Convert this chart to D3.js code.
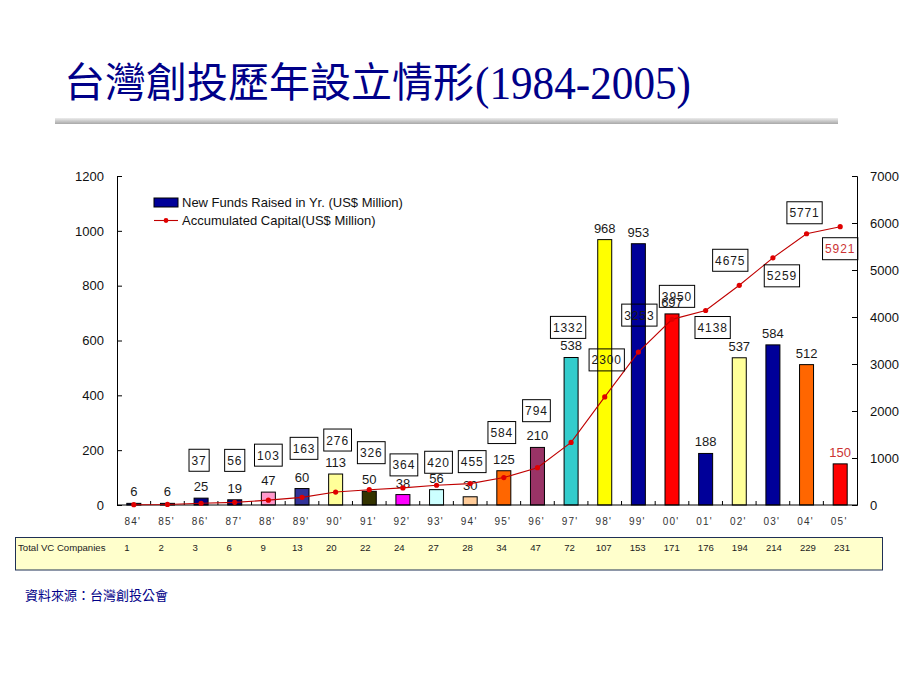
<!DOCTYPE html>
<html><head><meta charset="utf-8">
<script src="https://cdn.jsdelivr.net/npm/d3@7"></script>
<style>body{margin:0;background:#fff}svg{display:block}</style>
</head><body><svg id="c" width="920" height="690"></svg>
<script>
// ---------- DATA ----------
const years = ["84'","85'","86'","87'","88'","89'","90'","91'","92'","93'","94'","95'","96'","97'","98'","99'","00'","01'","02'","03'","04'","05'"];
const newFunds = [6,6,25,19,47,60,113,50,38,56,30,125,210,538,968,953,697,188,537,584,512,150];
const accumulated = [6,12,37,56,103,163,276,326,364,420,455,584,794,1332,2300,3253,3950,4138,4675,5259,5771,5921];
const vcCompanies = [1,2,3,6,9,13,20,22,24,27,28,34,47,72,107,153,171,176,194,214,229,231];
const leftTicks = [0,200,400,600,800,1000,1200];
const rightTicks = [0,1000,2000,3000,4000,5000,6000,7000];
const seriesNames = ["New Funds Raised in Yr. (US$ Million)","Accumulated Capital(US$ Million)"];
const titleCJK = "台灣創投歷年設立情形";
const titleNum = "(1984-2005)";
const tableLabel = "Total VC Companies";
const sourceText = "資料來源：台灣創投公會";

// ---------- STYLE / LAYOUT ----------
const barColors = ["#000080","#000080","#000080","#000080","#ff99cc","#333399","#ffff99","#333300","#ff00ff","#ccffff","#ffcc99","#ff6600","#993366","#33cccc","#ffff00","#000099","#ff0000","#000099","#ffff99","#000099","#ff6600","#ff0000"];
// manual placement of accumulated-value boxes (dx, dy from the point)
const accLabelOffsets = [null,null,[-2,-43],[0,-42],[0,-45],[2,-49],[2,-52],[2,-37],[1,-23],[2,-23],[2,-22],[-2,-45],[-1,-57],[-3,-115],[2,-37],[1,-37],[5,-23],[7,17],[-9,-25],[9,18],[-2,-21],[0,22]];

const svg = d3.select("#c");
const navy = "#000088";

// Title
svg.append("text").attr("x",64).attr("y",97).attr("fill",navy)
  .attr("font-family","'Noto Sans CJK TC','Noto Sans CJK SC',sans-serif").attr("font-size",41)
  .attr("textLength",410).attr("lengthAdjust","spacingAndGlyphs").text(titleCJK);
svg.append("text").attr("x",475).attr("y",99).attr("fill",navy)
  .attr("font-family","'Liberation Serif','DejaVu Serif',serif").attr("font-size",46)
  .attr("textLength",216).attr("lengthAdjust","spacingAndGlyphs").text(titleNum);

// Gray rule
const defs = svg.append("defs");
const g1 = defs.append("linearGradient").attr("id","rule").attr("x1",0).attr("y1",0).attr("x2",0).attr("y2",1);
g1.append("stop").attr("offset","0%").attr("stop-color","#ececec");
g1.append("stop").attr("offset","100%").attr("stop-color","#a8a8a8");
svg.append("rect").attr("x",55).attr("y",118).attr("width",783).attr("height",6).attr("fill","url(#rule)");

// Scales
const x = d3.scaleBand().domain(years).range([117,857]).padding(0);
const yL = d3.scaleLinear().domain([0,1200]).range([505,176]);
const yR = d3.scaleLinear().domain([0,7000]).range([505,176]);
const cx = d => x(d) + x.bandwidth()/2;
const font = "'Liberation Sans',Arial,sans-serif";

// Bars
const barW = 14;
svg.append("g").selectAll("rect").data(years).join("rect")
  .attr("x", d => cx(d) - barW/2)
  .attr("y", (d,i) => yL(newFunds[i]))
  .attr("width", barW)
  .attr("height", (d,i) => yL(0) - yL(newFunds[i]))
  .attr("fill", (d,i) => barColors[i])
  .attr("stroke","#000").attr("stroke-width",1);

// Axes
const axL = svg.append("g").attr("transform","translate(117,0)")
  .call(d3.axisLeft(yL).tickValues(leftTicks).tickFormat(d3.format("d")).tickSize(-5).tickPadding(13));
const axR = svg.append("g").attr("transform","translate(857,0)")
  .call(d3.axisRight(yR).tickValues(rightTicks).tickFormat(d3.format("d")).tickSize(-5).tickPadding(13));
[axL,axR].forEach(a=>{
  a.select(".domain").attr("stroke","#000");
  a.selectAll(".tick line").attr("stroke","#000");
  a.selectAll("text").attr("font-family",font).attr("font-size",13).attr("fill","#111");
});
// x axis: baseline + inside ticks at band boundaries
const axX = svg.append("g").attr("transform","translate(0,505)");
axX.append("line").attr("x1",117).attr("x2",857).attr("stroke","#000");
axX.selectAll("line.tk").data(years.slice(1)).join("line").attr("class","tk")
  .attr("x1",d=>x(d)).attr("x2",d=>x(d)).attr("y1",0).attr("y2",-4).attr("stroke","#000");
axX.selectAll("text").data(years).join("text")
  .attr("x",d=>cx(d)-1).attr("y",20)
  .attr("text-anchor","middle").attr("font-family",font).attr("font-size",10)
  .attr("letter-spacing",1.2).attr("fill","#333").text(d=>d);

// Bar value labels
svg.append("g").selectAll("text").data(years).join("text")
  .attr("x", d => cx(d)).attr("y",(d,i)=>yL(newFunds[i]) - 7)
  .attr("text-anchor","middle").attr("font-family",font).attr("font-size",13)
  .attr("fill",(d,i)=> i===years.length-1 ? "#cc3333" : "#1a1a1a")
  .text((d,i)=>newFunds[i]);

// Line
const line = d3.line().x((d,i)=>cx(years[i])).y(d=>yR(d));
svg.append("path").datum(accumulated).attr("d",line).attr("fill","none")
  .attr("stroke","#c00000").attr("stroke-width",1.1);
svg.append("g").selectAll("circle").data(accumulated).join("circle")
  .attr("cx",(d,i)=>cx(years[i])).attr("cy",d=>yR(d)).attr("r",2.6).attr("fill","#e00000");

// Accumulated boxes
const boxes = svg.append("g");
accumulated.forEach((v,i)=>{
  const off = accLabelOffsets[i];
  if(!off) return;
  const bx = cx(years[i]) + off[0], by = yR(v) + off[1];
  const g = boxes.append("g");
  const tx = g.append("text").attr("x",bx).attr("y",by+4.5).attr("text-anchor","middle")
    .attr("font-family",font).attr("font-size",12).attr("letter-spacing",0.9)
    .attr("fill", i===accumulated.length-1 ? "#cc3333" : "#1a1a1a").text(v);
  const w = tx.node().getComputedTextLength() + 5;
  g.insert("rect","text").attr("x",bx-w/2).attr("y",by-11).attr("width",w).attr("height",22)
    .attr("fill","none").attr("stroke","#000").attr("stroke-width",1);
});

// Legend
const lg = svg.append("g");
lg.append("rect").attr("x",154).attr("y",198).attr("width",24).attr("height",9).attr("fill","#000099").attr("stroke","#000");
lg.append("text").attr("x",182).attr("y",206.5).attr("font-family",font).attr("font-size",13).attr("fill","#111").text(seriesNames[0]);
lg.append("line").attr("x1",154).attr("x2",178).attr("y1",220.5).attr("y2",220.5).attr("stroke","#c00000").attr("stroke-width",1.1);
lg.append("circle").attr("cx",166).attr("cy",220.5).attr("r",2.4).attr("fill","#e00000");
lg.append("text").attr("x",182).attr("y",225).attr("font-family",font).attr("font-size",13).attr("fill","#111").text(seriesNames[1]);

// Table
const xt = d3.scalePoint().domain(years).range([127,842]);
svg.append("rect").attr("x",15.5).attr("y",537.5).attr("width",867).attr("height",32.5)
  .attr("fill","#ffffcc").attr("stroke","#1f3055").attr("stroke-width",1);
svg.append("text").attr("x",18).attr("y",551).attr("font-family",font).attr("font-size",9.6).attr("fill","#222").text(tableLabel);
svg.append("g").selectAll("text").data(years).join("text")
  .attr("x",d=>xt(d)).attr("y",551).attr("text-anchor","middle")
  .attr("font-family",font).attr("font-size",9.6).attr("fill","#222")
  .text((d,i)=>vcCompanies[i]);

// Source
svg.append("text").attr("x",25).attr("y",600).attr("font-family","'Noto Sans CJK TC','Noto Sans CJK SC',sans-serif")
  .attr("font-size",13).attr("fill",navy).text(sourceText);
</script>
</body></html>
